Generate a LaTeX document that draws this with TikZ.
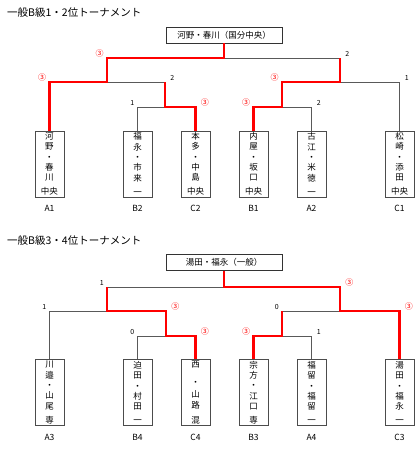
\documentclass[tikz,border=0pt]{standalone}
\usepackage{fontspec}
\setmainfont{Noto Sans CJK JP}
\usetikzlibrary{positioning}
\newcommand{\won}{{\color{red}\fontsize{8}{8}\selectfont ③}}
\tikzset{
  title/.style={anchor=west, inner sep=0pt, font=\fontsize{10.5}{12}\selectfont},
  bracket/.style={draw=black!65, line width=0.6pt},
  win/.style={draw=red, line width=2.6pt},
  champbox/.style={draw=black!80, minimum width=116pt, minimum height=16pt, inner sep=0pt, font=\fontsize{8.5}{10}\selectfont},
  namebox/.style={draw=black!70, minimum width=29pt, minimum height=66pt, inner sep=0pt, align=center, font=\fontsize{8.5}{10.3}\selectfont},
  team/.style={inner sep=1pt, font=\fontsize{8.5}{10}\selectfont},
  lscore/.style={anchor=south east, inner sep=1pt, xshift=-2pt, font=\fontsize{7}{8}\selectfont},
  rscore/.style={anchor=south west, inner sep=1pt, xshift=4pt, font=\fontsize{7}{8}\selectfont}
}
\begin{document}
\begin{tikzpicture}[x=1pt, y=-1pt]
  \useasboundingbox (0,0) rectangle (420,453);
  % 1・2位
  \node[title] (titleA) at (7,13) {一般B級1・2位トーナメント};
  \node[champbox] (champA) at (224,35) {河野・春川（国分中央）};
  \node[namebox] (a1) at (49.5,164) {河\\野\\・\\春\\川\\[3.7pt]中央};
  \node[namebox] (b2) at (137.5,164) {福\\永\\・\\市\\来\\[3.7pt]一};
  \node[namebox] (c2) at (195.5,164) {本\\多\\・\\中\\島\\[3.7pt]中央};
  \node[namebox] (b1) at (253.5,164) {内\\屋\\・\\坂\\口\\[3.7pt]中央};
  \node[namebox] (a2) at (311.5,164) {古\\江\\・\\米\\徳\\[3.7pt]一};
  \node[namebox] (c1) at (399.5,164) {松\\崎\\・\\添\\田\\[3.7pt]中央};
  \foreach \n/\t in {a1/A1, b2/B2, c2/C2, b1/B1, a2/A2, c1/C1}
    \node[team, below=7pt of \n] (\n-lbl) {\t};
  \coordinate (fA) at (224,58);
  \coordinate (sLA) at (107,82);
  \coordinate (sRA) at (340,82);
  \coordinate (qLA) at (165,107);
  \coordinate (qRA) at (282,107);
  \draw[bracket] (sLA) |- node[lscore]{\won} (fA);
  \draw[bracket] (sRA) |- node[rscore]{2} (fA);
  \draw[bracket] (a1.north) |- node[lscore]{\won} (sLA);
  \draw[bracket] (qLA) |- node[rscore]{2} (sLA);
  \draw[bracket] (qRA) |- node[lscore]{\won} (sRA);
  \draw[bracket] (c1.north) |- node[rscore]{1} (sRA);
  \draw[bracket] (b2.north) |- node[lscore]{1} (qLA);
  \draw[bracket] (c2.north) |- node[rscore]{\won} (qLA);
  \draw[bracket] (b1.north) |- node[lscore]{\won} (qRA);
  \draw[bracket] (a2.north) |- node[rscore]{2} (qRA);
  \draw[win] (champA.south) -- (fA) -| (sLA) -| (a1.north);
  \draw[win] (qLA |- sLA) -- (qLA) -| (c2.north);
  \draw[win] (sRA |- fA) -- (sRA) -| (qRA) -| (b1.north);
  % 3・4位
  \node[title] (titleB) at (7,241) {一般B級3・4位トーナメント};
  \node[champbox] (champB) at (224,262.5) {湯田・福永（一般）};
  \node[namebox] (a3) at (49.5,392.5) {川\\邉\\・\\山\\尾\\[3.7pt]専};
  \node[namebox] (b4) at (137.5,392.5) {迫\\田\\・\\村\\田\\[3.7pt]一};
  \node[namebox] (c4) at (195.5,392.5) {西\\[7.7pt]・\\[1.7pt]山\\路\\[4.7pt]混};
  \node[namebox] (b3) at (253.5,392.5) {宗\\方\\・\\江\\口\\[3.7pt]専};
  \node[namebox] (a4) at (311.5,392.5) {福\\留\\・\\福\\留\\[3.7pt]一};
  \node[namebox] (c3) at (399.5,392.5) {湯\\田\\・\\福\\永\\[3.7pt]一};
  \foreach \n/\t in {a3/A3, b4/B4, c4/C4, b3/B3, a4/A4, c3/C3}
    \node[team, below=7pt of \n] (\n-lbl) {\t};
  \coordinate (fB) at (224,287);
  \coordinate (sLB) at (107,311);
  \coordinate (sRB) at (340,311);
  \coordinate (qLB) at (166,336);
  \coordinate (qRB) at (282,336);
  \draw[bracket] (sLB) |- node[lscore]{1} (fB);
  \draw[bracket] (sRB) |- node[rscore]{\won} (fB);
  \draw[bracket] (a3.north) |- node[lscore]{1} (sLB);
  \draw[bracket] (qLB) |- node[rscore]{\won} (sLB);
  \draw[bracket] (qRB) |- node[lscore]{0} (sRB);
  \draw[bracket] (c3.north) |- node[rscore]{\won} (sRB);
  \draw[bracket] (b4.north) |- node[lscore]{0} (qLB);
  \draw[bracket] (c4.north) |- node[rscore]{\won} (qLB);
  \draw[bracket] (b3.north) |- node[lscore]{\won} (qRB);
  \draw[bracket] (a4.north) |- node[rscore]{1} (qRB);
  \draw[win] (champB.south) -- (fB) -| (sRB) -| (c3.north);
  \draw[win] (sLB |- fB) -- (sLB) -| (qLB) -| (c4.north);
  \draw[win] (qRB |- sRB) -- (qRB) -| (b3.north);
\end{tikzpicture}
\end{document}
